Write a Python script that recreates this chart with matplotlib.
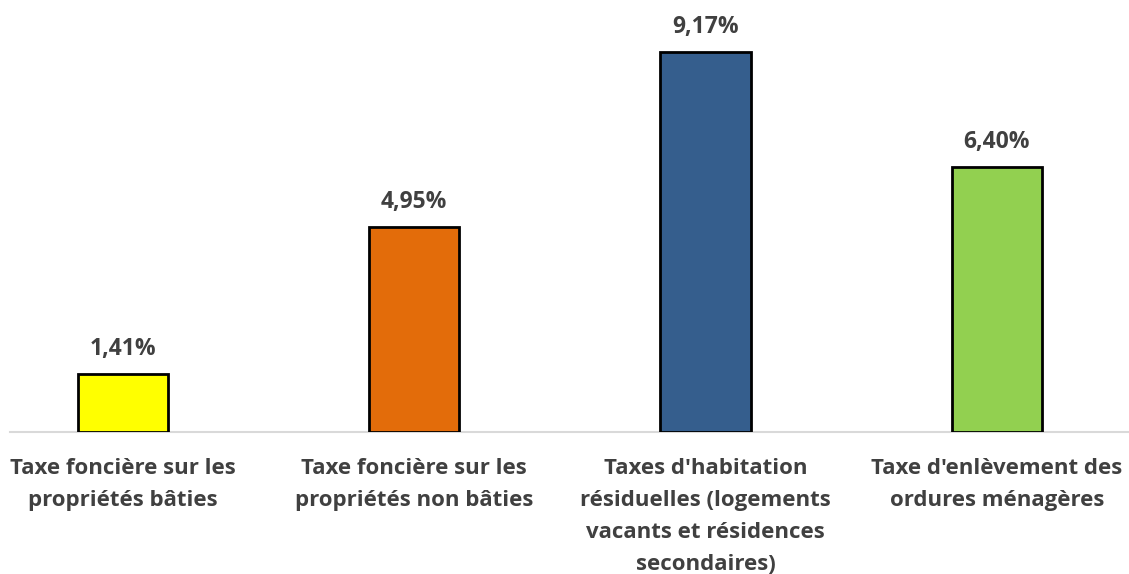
import numpy as np
import matplotlib.pyplot as plt

plt.rcParams['font.family'] = ['Open Sans', 'DejaVu Sans']

# Données
categories = [
    "Taxe foncière sur les\npropriétés bâties",
    "Taxe foncière sur les\npropriétés non bâties",
    "Taxes d'habitation\nrésiduelles (logements\nvacants et résidences\nsecondaires)",
    "Taxe d'enlèvement des\nordures ménagères",
]
valeurs = [1.41, 4.95, 9.17, 6.40]
couleurs = ["#ffff00", "#e36c0a", "#355e8d", "#92d050"]

texte = "#404040"

fig = plt.figure(figsize=(11.29, 5.74), dpi=100)
ax = fig.add_axes([10 / 1129, 142 / 574, 1119 / 1129, 432 / 574])

x = np.arange(len(categories))
ax.bar(x, valeurs, width=0.31, color=couleurs, edgecolor="black", linewidth=2, zorder=3)

for xi, v in zip(x, valeurs):
    ax.annotate(f"{v:.2f}%".replace(".", ","), (xi, v), xytext=(0, 9),
                textcoords="offset points", ha="center", va="bottom",
                fontsize=16.5, fontweight="bold", color=texte)

ax.set_xlim((10 - 123) / 291.3, (1129 - 123) / 291.3)
ax.set_ylim(0, 432 / 41.44)
ax.set_xticks(x)
ax.set_xticklabels(categories, fontsize=16, fontweight="bold", color=texte, linespacing=1.7)
ax.tick_params(axis="x", length=0, pad=18.5)
ax.set_yticks([])

for s in ["top", "left", "right"]:
    ax.spines[s].set_visible(False)
ax.spines["bottom"].set_color("#d9d9d9")
ax.spines["bottom"].set_linewidth(1.5)

fig.savefig("out.png", dpi=100)
